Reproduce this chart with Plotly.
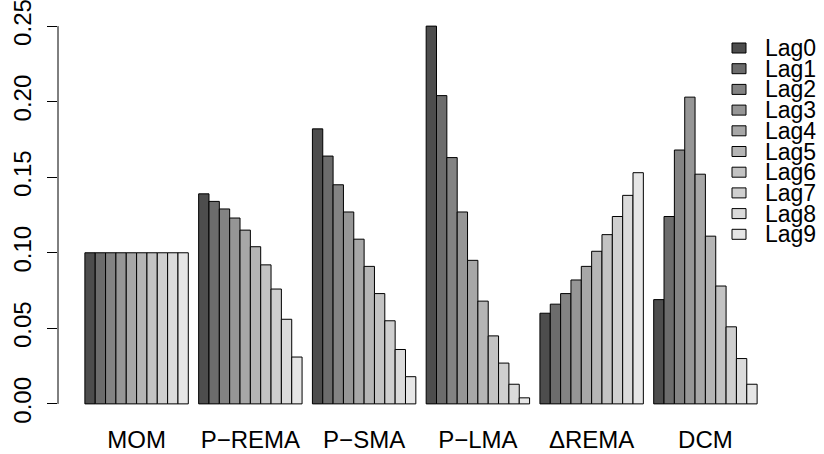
import plotly.graph_objects as go

# ---- data ----
LAGS = ["Lag0", "Lag1", "Lag2", "Lag3", "Lag4", "Lag5", "Lag6", "Lag7", "Lag8", "Lag9"]
METHODS = ["MOM", "P\u2212REMA", "P\u2212SMA", "P\u2212LMA", "\u0394REMA", "DCM"]
MOM = [0.100, 0.100, 0.100, 0.100, 0.100, 0.100, 0.100, 0.100, 0.100, 0.100]
P_REMA = [0.139, 0.134, 0.129, 0.123, 0.115, 0.104, 0.092, 0.076, 0.056, 0.031]
P_SMA = [0.182, 0.164, 0.145, 0.127, 0.109, 0.091, 0.073, 0.055, 0.036, 0.018]
P_LMA = [0.250, 0.204, 0.163, 0.127, 0.095, 0.068, 0.045, 0.027, 0.013, 0.004]
D_REMA = [0.060, 0.066, 0.073, 0.082, 0.091, 0.101, 0.112, 0.124, 0.138, 0.153]
DCM = [0.069, 0.124, 0.168, 0.203, 0.152, 0.111, 0.078, 0.051, 0.030, 0.013]
Y_TICKS = [0.00, 0.05, 0.10, 0.15, 0.20, 0.25]
Y_TICK_LABELS = ["0.00", "0.05", "0.10", "0.15", "0.20", "0.25"]

# ---- style ----
GRAYS = ["#4D4D4D", "#6C6C6C", "#838383", "#969696", "#A7A7A7",
         "#B5B5B5", "#C3C3C3", "#CFCFCF", "#DBDBDB", "#E6E6E6"]
FONT = "Liberation Sans, Arial, Helvetica, sans-serif"
W, H = 824, 454
ML, MR, MT, MB = 58, 40, 11, 35
PW, PH = W - ML - MR, H - MT - MB

SERIES = [MOM, P_REMA, P_SMA, P_LMA, D_REMA, DCM]

fig = go.Figure()
for k, lag in enumerate(LAGS):
    fig.add_trace(go.Bar(
        x=METHODS,
        y=[s[k] for s in SERIES],
        name=lag,
        marker=dict(color=GRAYS[k], line=dict(color="black", width=1)),
        showlegend=False,
    ))

fig.update_layout(
    width=W, height=H,
    margin=dict(l=ML, r=MR, t=MT, b=MB, pad=0, autoexpand=False),
    paper_bgcolor="white", plot_bgcolor="white",
    barmode="group", bargap=1 / 11, bargroupgap=0,
    font=dict(family=FONT, size=24, color="black"),
    xaxis=dict(range=[-0.6909, 5.6909], showgrid=False, zeroline=False,
               showline=False, ticks="", tickfont=dict(size=24),
               ticklabelstandoff=4, automargin=False,
               ticklabeloverflow="allow"),
    yaxis=dict(range=[-0.01, 0.26], showgrid=False, zeroline=False,
               showline=False, ticks="outside", ticklen=10, tickwidth=1,
               tickcolor="black", tickvals=Y_TICKS, ticktext=Y_TICK_LABELS,
               tickangle=-90, tickfont=dict(size=24), ticklabelstandoff=6,
               automargin=False, ticklabeloverflow="allow"),
)

# y axis line spanning the tick range only (R style)
fig.add_shape(type="line", xref="paper", yref="y", x0=0, x1=0,
              y0=Y_TICKS[0], y1=Y_TICKS[-1], line=dict(color="black", width=1))

# manual legend (R-style, no box)
def px_x(px):
    return (px - ML) / PW

def px_y(py):
    return (H - MB - py) / PH

row0, step = 48, 20.7
for i, lag in enumerate(LAGS):
    cy = row0 + i * step
    fig.add_shape(type="rect", xref="paper", yref="paper",
                  x0=px_x(732), x1=px_x(746), y0=px_y(cy + 5), y1=px_y(cy - 5),
                  fillcolor=GRAYS[i], line=dict(color="black", width=1))
    fig.add_annotation(text=lag, xref="paper", yref="paper",
                       x=px_x(763), y=px_y(cy), xanchor="left", yanchor="middle",
                       showarrow=False, font=dict(size=23, family=FONT))

fig.write_html("out.html")
